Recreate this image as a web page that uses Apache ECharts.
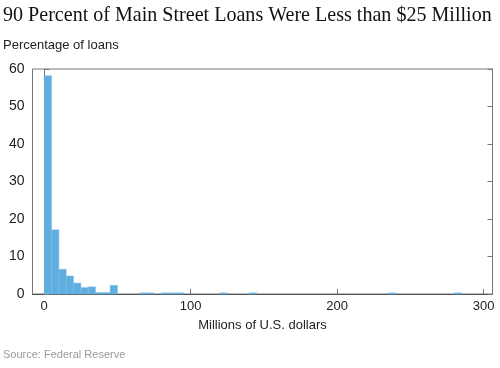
<!DOCTYPE html>
<html><head><meta charset="utf-8">
<script src="https://cdn.jsdelivr.net/npm/echarts@6/dist/echarts.min.js"></script>
<style>html,body{margin:0;padding:0;background:#fff}#c{width:500px;height:368px}</style>
</head><body><div id="c"></div>
<script>
// Histogram bins (millions of U.S. dollars), bin width 5
const binStarts = [0,5,10,15,20,25,30,35,40,45,65,70,80,85,90,120,140,235,280];
const binWidth = 5;
const percentages = [58.2,17.1,6.6,4.8,2.9,1.7,1.9,0.4,0.4,2.3,0.3,0.3,0.3,0.3,0.3,0.3,0.3,0.3,0.3];
const xTicks = [0,100,200,300];
const yTicks = [0,10,20,30,40,50,60];

const titleText = '90 Percent of Main Street Loans Were Less than $25 Million';
const serif = '"Liberation Serif", "Times New Roman", serif';
const cv = document.createElement('canvas').getContext('2d');
cv.font = '100px ' + serif;
const titleSize = Math.min(26, 100 * 489 / cv.measureText(titleText).width);

const data = binStarts.map((s,i)=>[s, s+binWidth, percentages[i]]);
const chart = echarts.init(document.getElementById('c'), null, {renderer:'canvas'});
const axisColor = '#777';
const sans = 'Arial, "Liberation Sans", sans-serif';
chart.setOption({
  animation:false,
  title:[
    {text:titleText, left:3, top:6, padding:0,
     textStyle:{fontFamily:serif, fontWeight:'normal', fontSize:titleSize, color:'#111'}},
    {text:'Percentage of loans', left:3, top:39, padding:0,
     textStyle:{fontFamily:sans, fontWeight:'normal', fontSize:13, color:'#222'}},
    {text:'Source: Federal Reserve', left:3, top:349, padding:0,
     textStyle:{fontFamily:sans, fontWeight:'normal', fontSize:11, color:'#999'}}
  ],
  grid:{left:32.5, right:7.5, top:69, bottom:74, show:true, borderColor:axisColor, borderWidth:1, containLabel:false},
  xAxis:{type:'value', min:-8, max:306,
    name:'Millions of U.S. dollars', nameLocation:'middle', nameGap:25,
    nameTextStyle:{fontFamily:sans, fontSize:13, color:'#222'},
    splitLine:{show:false},
    axisLine:{show:true, lineStyle:{color:'#555'}},
    axisTick:{show:true, inside:true, length:5, customValues:xTicks, lineStyle:{color:axisColor}},
    axisLabel:{customValues:xTicks, margin:6, fontFamily:sans, fontSize:13, color:'#222'}
  },
  yAxis:[
    {type:'value', min:0, max:60, interval:10, position:'left',
     splitLine:{show:false},
     axisLine:{show:true, lineStyle:{color:axisColor}},
     axisTick:{show:true, inside:true, length:5, lineStyle:{color:axisColor}},
     axisLabel:{margin:8, fontFamily:sans, fontSize:14, color:'#222'}},
    {type:'value', min:0, max:60, interval:10, position:'right',
     splitLine:{show:false},
     axisLine:{show:true, lineStyle:{color:axisColor}},
     axisTick:{show:true, inside:true, length:5, lineStyle:{color:axisColor}},
     axisLabel:{show:false}}
  ],
  series:[{
    type:'custom', xAxisIndex:0, yAxisIndex:0,
    data:data,
    encode:{x:[0,1], y:2},
    renderItem:function(params, api){
      const p0 = api.coord([api.value(0), api.value(2)]);
      const p1 = api.coord([api.value(1), 0]);
      return {type:'rect', shape:{x:p0[0], y:p0[1], width:p1[0]-p0[0], height:p1[1]-p0[1]},
        style:{fill:'#5eaee0', stroke:'#78bbe6', lineWidth:0.5}};
    }
  }]
});
</script></body></html>
